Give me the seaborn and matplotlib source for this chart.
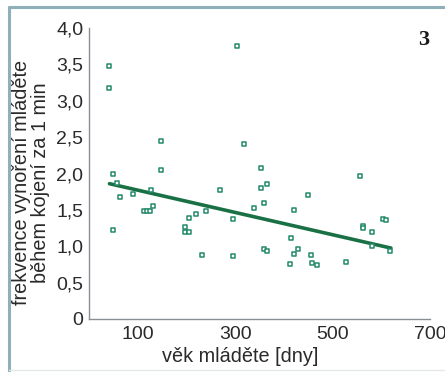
import numpy as np
import pandas as pd
import matplotlib
matplotlib.use("Agg")
import matplotlib.pyplot as plt
import seaborn as sns
from matplotlib.lines import Line2D

# vek mladete [dny] vs. frekvence vynoreni
vek = [42, 42, 50, 57, 63, 50, 91, 113, 120, 126, 127, 132, 147, 147,
       198, 198, 205, 205, 219, 232, 240, 268, 295, 295, 303, 318, 338,
       353, 353, 366, 359, 359, 366, 415, 412, 422, 422, 430, 450, 455,
       458, 469, 527, 556, 563, 563, 581, 581, 604, 610, 619]
frekvence = [3.48, 3.17, 2.00, 1.87, 1.68, 1.23, 1.72, 1.48, 1.49, 1.49,
             1.77, 1.55, 2.44, 2.05, 1.26, 1.19, 1.20, 1.39, 1.44, 0.88,
             1.49, 1.77, 1.37, 0.86, 3.75, 2.40, 1.52, 2.08, 1.80, 1.85,
             1.59, 0.96, 0.93, 1.11, 0.75, 1.50, 0.90, 0.96, 1.71, 0.88,
             0.77, 0.74, 0.78, 1.96, 1.28, 1.25, 1.20, 1.00, 1.37, 1.36,
             0.93]

# regresni primka (koncove body)
fit_x = [42, 620]
fit_y = [1.86, 0.975]

y_ticks = [0, 0.5, 1.0, 1.5, 2.0, 2.5, 3.0, 3.5, 4.0]
y_ticklabels = ["0", "0,5", "1,0", "1,5", "2,0", "2,5", "3,0", "3,5", "4,0"]
x_ticks = [100, 200, 300, 400, 500, 600, 700]
x_ticklabels = ["100", "", "300", "", "500", "", "700"]

df = pd.DataFrame({"vek": vek, "frekvence": frekvence})
df_fit = pd.DataFrame({"vek": fit_x, "frekvence": fit_y})

sns.set_style("white")
plt.rcParams["font.family"] = ["Liberation Sans", "DejaVu Sans"]

fig = plt.figure(figsize=(4.45, 3.72), dpi=100)
ax = fig.add_axes([0.2, 0.1425, 0.766, 0.7822])

sns.lineplot(data=df_fit, x="vek", y="frekvence", ax=ax,
             color="#1a7045", lw=2.6, zorder=2)
sns.scatterplot(data=df, x="vek", y="frekvence", ax=ax, marker="s", s=11,
                facecolor="white", edgecolor="#23896a", linewidth=1.1,
                zorder=3)

ax.set_xlim(0, 700)
ax.set_ylim(0, 4.0)
ax.set_xticks(x_ticks)
ax.set_xticklabels(x_ticklabels)
ax.set_yticks(y_ticks)
ax.set_yticklabels(y_ticklabels)

for s in ["top", "right"]:
    ax.spines[s].set_visible(False)
for s in ["left", "bottom"]:
    ax.spines[s].set_color("#8a8f94")
    ax.spines[s].set_linewidth(1.0)
ax.tick_params(axis="both", direction="out", length=3, width=0.8,
               color="#9a9fa4", labelsize=14, labelcolor="#2a2a2a", pad=2)
ax.tick_params(axis="y", pad=1)

ax.set_xlabel("věk mláděte [dny]", fontsize=14.3, color="#2a2a2a")
ax.set_ylabel("frekvence vynoření mláděte\nběhem kojení za 1 min",
              fontsize=14.3, color="#2a2a2a", linespacing=0.98)
ax.xaxis.set_label_coords(0.444, -0.095)
ax.yaxis.set_label_coords(-0.115, 0.47)

fig.text(0.952, 0.893, "3", fontsize=16, fontweight="bold",
         family=["Liberation Serif", "DejaVu Serif"], color="#1a1a1a",
         ha="center", va="center")

# ramecek kolem obrazku
ram = "#8fb0b8"
fig.add_artist(Line2D([8.5 / 445, 8.5 / 445], [0, 1 - 7 / 372],
                      transform=fig.transFigure, color=ram, lw=2.2))
fig.add_artist(Line2D([8.5 / 445, 1], [1 - 7 / 372, 1 - 7 / 372],
                      transform=fig.transFigure, color=ram, lw=2.2))
fig.add_artist(Line2D([9 / 445, 1], [2 / 372, 2 / 372],
                      transform=fig.transFigure, color="#e4e6e8", lw=1.0))

fig.savefig("out.png", dpi=100)
